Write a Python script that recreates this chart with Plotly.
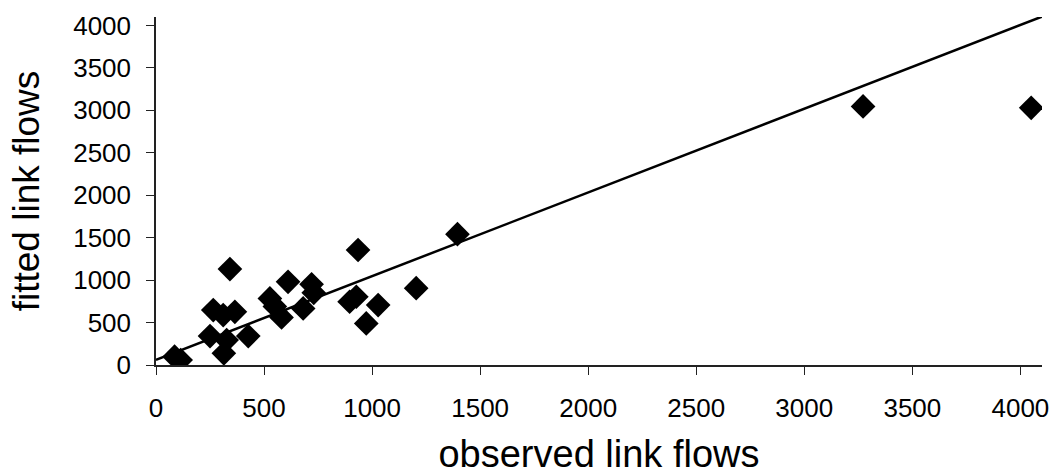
import plotly.graph_objects as go

# observed vs fitted link flows
observed = [86, 114, 250, 327, 314, 427, 265, 311, 365, 342, 527, 550, 581, 611,
            681, 720, 730, 896, 927, 935, 973, 1028, 1204, 1395, 3272, 4050]
fitted = [98, 59, 341, 294, 137, 341, 647, 588, 627, 1130, 784, 690, 560, 980,
          667, 950, 850, 745, 804, 1355, 490, 706, 905, 1541, 3047, 3030]

# reference line
line_x = [0, 4100]
line_y = [60, 4105]

tick_vals = [0, 500, 1000, 1500, 2000, 2500, 3000, 3500, 4000]
tick_text = [str(v) for v in tick_vals]

FONT = "Liberation Sans, Arial, sans-serif"

fig = go.Figure()
fig.add_trace(go.Scatter(x=line_x, y=line_y, mode="lines",
                         line=dict(color="black", width=2.5),
                         hoverinfo="skip", showlegend=False))
fig.add_trace(go.Scatter(x=observed, y=fitted, mode="markers",
                         marker=dict(symbol="diamond", size=19, color="black",
                                     line=dict(width=0)),
                         showlegend=False))

axis_common = dict(
    showgrid=False, zeroline=False, showline=True, linecolor="#222",
    linewidth=1.5, ticks="outside", ticklen=8, tickwidth=1.2, tickcolor="#222",
    tickvals=tick_vals, ticktext=tick_text, automargin=False,
    tickfont=dict(family=FONT, size=26, color="black"),
)

fig.update_layout(
    width=1057, height=475,
    margin=dict(l=156, r=15, t=17, b=110),
    paper_bgcolor="white", plot_bgcolor="white",
    xaxis=dict(range=[0, 4100], title=dict(text="observed link flows",
               font=dict(family=FONT, size=38, color="black"), standoff=22),
               ticklabelstandoff=11, **axis_common),
    yaxis=dict(range=[0, 4100], title=dict(text="fitted link flows",
               font=dict(family=FONT, size=37, color="black"), standoff=22),
               ticklabelstandoff=10, **axis_common),
)

fig.write_html("out.html")
